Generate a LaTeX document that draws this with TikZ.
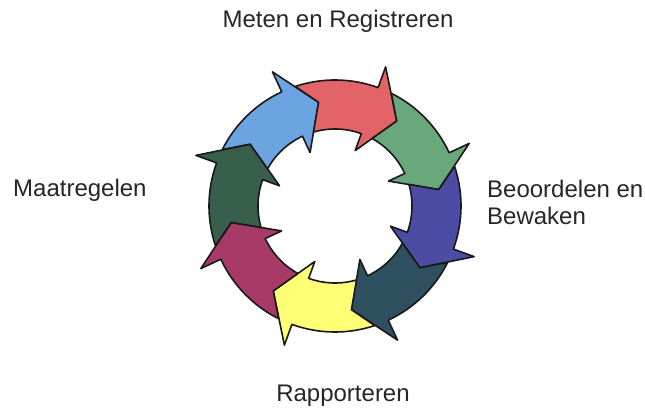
\documentclass[tikz,border=0pt]{standalone}
\usepackage{fontspec}
\setmainfont{Liberation Sans}
\usepackage{tikz}

\definecolor{segltblue}{RGB}{108,164,226}
\definecolor{segred}{RGB}{226,100,104}
\definecolor{seggreen}{RGB}{104,168,122}
\definecolor{segindigo}{RGB}{76,76,164}
\definecolor{segteal}{RGB}{46,80,96}
\definecolor{segyellow}{RGB}{255,255,118}
\definecolor{segmagenta}{RGB}{168,58,104}
\definecolor{segdkgreen}{RGB}{56,94,76}

\begin{document}
\begin{tikzpicture}[x=1pt,y=1pt,line join=round]
  \tikzstyle{segment}=[draw=black!90,line width=1.6pt]
  \tikzstyle{phase}=[font=\fontsize{24}{27}\selectfont,text=black!85,inner sep=0pt]

  \useasboundingbox (0,0) rectangle (645,407);

  % ring of eight arrows, clockwise
  \begin{scope}[shift={(335,201)}]
    \foreach \t/\c in {99/segltblue,54/segred,9/seggreen,-36/segindigo,
                       -81/segteal,-126/segyellow,-171/segmagenta,144/segdkgreen}
    {
      \pgfmathsetmacro{\T}{\t+45}
      \pgfmathsetmacro{\B}{\t+16}
      \path[segment,fill=\c] (\T+9.4:126pt) arc[start angle=\T+9.4,end angle=\B,radius=126pt]
        -- (\B:148pt) -- (\t:105pt) -- (\B:59pt) -- (\B:77pt)
        arc[start angle=\B,end angle=\T+7.2,radius=77pt] -- (\T:105pt) -- cycle;
    }
  \end{scope}

  \node[phase,anchor=base]       (meten)     at (338,379) {Meten en Registreren};
  \node[phase,anchor=north west,align=left]
                                 (beoordeel) at (487,227) {Beoordelen en\\Bewaken};
  \node[phase,anchor=base]       (rapport)   at (343,6)   {Rapporteren};
  \node[phase,anchor=base west]  (maatregel) at (13,210)  {Maatregelen};
\end{tikzpicture}
\end{document}
